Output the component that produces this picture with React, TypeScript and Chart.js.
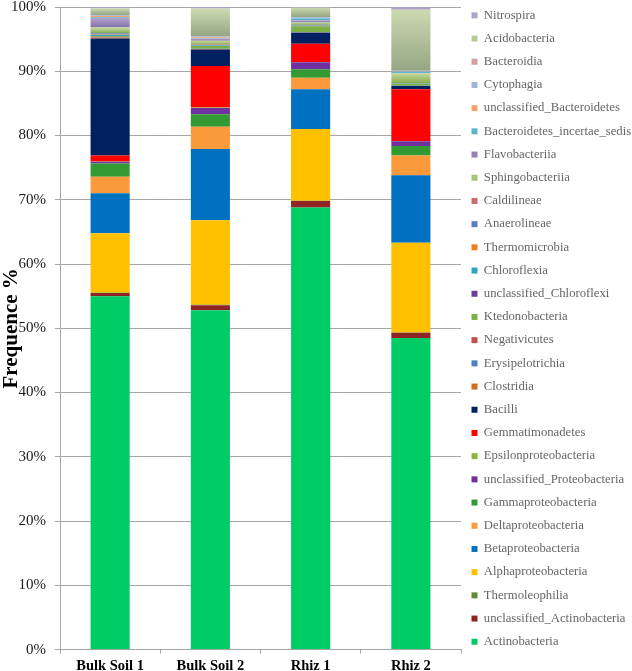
import React, { useEffect, useRef } from 'react';
import { Chart, registerables } from 'chart.js';

Chart.register(...registerables);

const categories = ['Bulk Soil 1', 'Bulk Soil 2', 'Rhiz 1', 'Rhiz 2'];
const yTickValues = [0, 10, 20, 30, 40, 50, 60, 70, 80, 90, 100];

// values in %, per category (Bulk Soil 1, Bulk Soil 2, Rhiz 1, Rhiz 2)
const actinobacteria = [55.0, 52.8, 68.8, 48.5];
const unclassifiedActinobacteria = [0.5, 0.8, 1.0, 0.8];
const thermoleophilia = [0.05, 0.05, 0.05, 0.05];
const alphaproteobacteria = [9.25, 13.15, 11.15, 13.95];
const betaproteobacteria = [6.2, 11.1, 6.2, 10.5];
const deltaproteobacteria = [2.6, 3.45, 1.8, 3.1];
const gammaproteobacteria = [2.05, 1.95, 1.3, 1.45];
const unclassifiedProteobacteria = [0.25, 1.0, 1.1, 0.75];
const epsilonproteobacteria = [0.05, 0.05, 0.05, 0.05];
const gemmatimonadetes = [0.95, 6.45, 2.85, 8.05];
const bacilli = [18.2, 2.6, 1.7, 0.5];
const clostridia = [0.15, 0.05, 0.05, 0.02];
const erysipelotrichia = [0.1, 0.05, 0.05, 0.02];
const negativicutes = [0.02, 0.02, 0.02, 0.01];
const ktedonobacteria = [0.1, 0.4, 0.9, 0.3];
const unclassifiedChloroflexi = [0.03, 0.03, 0.03, 0.02];
const chloroflexia = [0.2, 0.05, 0.05, 0.03];
const thermomicrobia = [0.05, 0.02, 0.02, 0.01];
const anaerolineae = [0.15, 0.08, 0.1, 0.05];
const caldilineae = [0.05, 0.05, 0.03, 0.02];
const sphingobacteriia = [0.85, 0.6, 0.35, 1.5];
const flavobacteriia = [1.5, 0.3, 0.35, 0.05];
const bacteroidetesIncertaeSedis = [0.1, 0.1, 0.3, 0.2];
const unclassifiedBacteroidetes = [0.2, 0.15, 0.05, 0.03];
const cytophagia = [0.1, 0.15, 0.1, 0.1];
const bacteroidia = [0.05, 0.05, 0.05, 0.02];
const acidobacteria = [1.05, 4.25, 1.45, 9.5];
const nitrospira = [0.2, 0.25, 0.1, 0.42];

// stack order, bottom to top
const seriesLabels = [
  'Actinobacteria', 'unclassified_Actinobacteria', 'Thermoleophilia', 'Alphaproteobacteria',
  'Betaproteobacteria', 'Deltaproteobacteria', 'Gammaproteobacteria', 'unclassified_Proteobacteria',
  'Epsilonproteobacteria', 'Gemmatimonadetes', 'Bacilli', 'Clostridia', 'Erysipelotrichia',
  'Negativicutes', 'Ktedonobacteria', 'unclassified_Chloroflexi', 'Chloroflexia', 'Thermomicrobia',
  'Anaerolineae', 'Caldilineae', 'Sphingobacteriia', 'Flavobacteriia', 'Bacteroidetes_incertae_sedis',
  'unclassified_Bacteroidetes', 'Cytophagia', 'Bacteroidia', 'Acidobacteria', 'Nitrospira',
];
const seriesValues = [
  actinobacteria, unclassifiedActinobacteria, thermoleophilia, alphaproteobacteria,
  betaproteobacteria, deltaproteobacteria, gammaproteobacteria, unclassifiedProteobacteria,
  epsilonproteobacteria, gemmatimonadetes, bacilli, clostridia, erysipelotrichia,
  negativicutes, ktedonobacteria, unclassifiedChloroflexi, chloroflexia, thermomicrobia,
  anaerolineae, caldilineae, sphingobacteriia, flavobacteriia, bacteroidetesIncertaeSedis,
  unclassifiedBacteroidetes, cytophagia, bacteroidia, acidobacteria, nitrospira,
];
const seriesColors = [
  '#00CC66', '#8E2424', '#5F8A32', '#FFC000',
  '#0070C0', '#FA9A3A', '#339933', '#7030A0',
  '#8DB43C', '#FF0000', '#002060', '#D26B1F', '#4B7FC4',
  '#C0504D', '#7DB046', '#6B3FA0', '#31A3BF', '#F07E1E',
  '#5A7FC0', '#CC6B6B', '#A3C47A', '#9580B8', '#5BB4CC',
  '#F4A070', '#9FB4D6', '#D4A0A0', '#B6CC98', '#AFA3C6',
];
// gradient fills (top colour, bottom colour) for some series
const gradientStops: Record<string, [string, string]> = {
  Acidobacteria: ['#CBDAB0', '#96A684'],
  Sphingobacteriia: ['#C6DAA0', '#8AAE4E'],
  Flavobacteriia: ['#B3A3CC', '#8470A8'],
};

const FONT = "'Liberation Serif', 'Times New Roman', serif";
const CANVAS_W = 631;
const CANVAS_H = 690;

export default function App() {
  const canvasRef = useRef<HTMLCanvasElement | null>(null);

  useEffect(() => {
    const canvas = canvasRef.current;
    if (!canvas) return;

    const datasets = seriesLabels.map((label, si) => {
      const base = seriesColors[si];
      const stops = gradientStops[label];
      return {
        label,
        data: seriesValues[si],
        backgroundColor: stops
          ? (ctx: any) => {
              if (ctx.type !== 'data') return base;
              const chart = ctx.chart;
              const ys = chart.scales && chart.scales.y;
              if (!ys || !chart.chartArea) return base;
              const i = ctx.dataIndex;
              let start = 0;
              for (let k = 0; k < si; k++) start += seriesValues[k][i];
              const end = start + seriesValues[si][i];
              const top = ys.getPixelForValue(end);
              const bottom = ys.getPixelForValue(start);
              if (!isFinite(top) || !isFinite(bottom) || bottom - top < 0.5) return base;
              const g = chart.ctx.createLinearGradient(0, top, 0, bottom);
              g.addColorStop(0, stops[0]);
              g.addColorStop(1, stops[1]);
              return g;
            }
          : base,
        borderWidth: 0,
        stack: 's',
      };
    });

    const chart = new Chart(canvas, {
      type: 'bar',
      data: { labels: categories, datasets: datasets as any },
      options: {
        animation: false,
        responsive: false,
        maintainAspectRatio: false,
        layout: { padding: { top: 0, left: 0, right: 0, bottom: 0 } },
        datasets: {
          bar: { categoryPercentage: 1, barPercentage: 0.39 },
        },
        plugins: {
          tooltip: { enabled: false },
          legend: {
            position: 'right',
            align: 'start',
            reverse: true,
            maxWidth: 170,
            title: {
              display: true,
              text: ' ',
              font: { family: FONT, size: 9.5, lineHeight: 1 },
              padding: 0,
            },
            labels: {
              font: { family: FONT, size: 12.7 },
              color: '#1a1a1a',
              boxWidth: 6,
              boxHeight: 6,
              padding: 10.5,
              generateLabels: (ch: any) =>
                ch.data.datasets.map((ds: any, i: number) => ({
                  text: ds.label,
                  fillStyle: seriesColors[i],
                  strokeStyle: seriesColors[i],
                  lineWidth: 0,
                  hidden: false,
                  datasetIndex: i,
                })),
            },
          },
        },
        scales: {
          x: {
            stacked: true,
            grid: {
              display: true,
              drawOnChartArea: false,
              drawTicks: true,
              tickLength: 4,
              color: '#A6A6A6',
              offset: true,
            },
            border: { color: '#A6A6A6', width: 1 },
            ticks: {
              font: { family: FONT, size: 14.5, weight: 'bold' },
              color: '#000',
              padding: 4,
            },
          },
          y: {
            stacked: true,
            min: 0,
            max: 100,
            afterBuildTicks: (scale: any) => {
              scale.ticks = yTickValues.map((v) => ({ value: v }));
            },
            afterFit: (scale: any) => {
              scale.width = 60;
            },
            grid: {
              color: '#A6A6A6',
              drawTicks: true,
              tickLength: 5,
            },
            border: { color: '#A6A6A6', width: 1 },
            ticks: {
              font: { family: FONT, size: 15 },
              color: '#1a1a1a',
              padding: 9,
              callback: (v: any) => v + '%',
            },
            title: {
              display: true,
              text: 'Frequence %',
              font: { family: FONT, size: 21, weight: 'bold' },
              color: '#000',
              padding: { top: -1, bottom: 0 },
            },
          },
        },
      },
    });

    return () => chart.destroy();
  }, []);

  return (
    <div style={{ position: 'fixed', left: 0, top: 0, width: 632, height: 671, overflow: 'hidden', background: '#fff' }}>
      <div style={{ position: 'absolute', left: 0, top: -11, width: CANVAS_W, height: CANVAS_H }}>
        <canvas
          ref={canvasRef}
          width={CANVAS_W}
          height={CANVAS_H}
          style={{ display: 'block', width: CANVAS_W, height: CANVAS_H }}
        />
      </div>
    </div>
  );
}
